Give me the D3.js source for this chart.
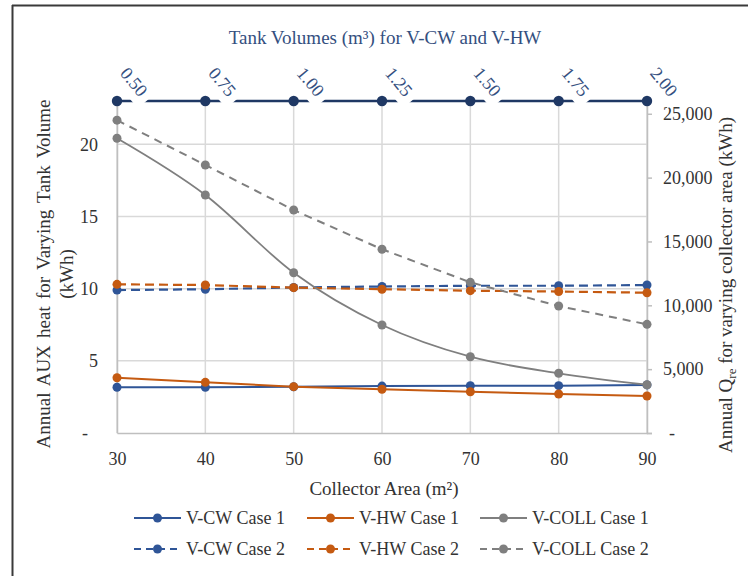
<!DOCTYPE html>
<html>
<head>
<meta charset="utf-8">
<script src="https://cdn.jsdelivr.net/npm/d3@7"></script>
<style>
  html, body { margin: 0; padding: 0; background: #fff; }
  svg { display: block; font-family: "Liberation Serif", "Times New Roman", serif; }
</style>
</head>
<body>
<svg id="chart" width="748" height="576"></svg>
<script>
// ---- data ----
const collectorArea = [30, 40, 50, 60, 70, 80, 90];
const tankVolumes = ["0.50", "0.75", "1.00", "1.25", "1.50", "1.75", "2.00"];
const leftTicks = [0, 5, 10, 15, 20];
const rightTicks = [0, 5000, 10000, 15000, 20000, 25000];

const vcwCase1 = [3.17, 3.17, 3.20, 3.25, 3.27, 3.28, 3.33];
const vhwCase1 = [3.83, 3.51, 3.21, 3.03, 2.86, 2.70, 2.56];
const vcwCase2 = [9.90, 9.96, 10.08, 10.15, 10.20, 10.20, 10.25];
const vhwCase2 = [10.30, 10.25, 10.07, 9.96, 9.86, 9.80, 9.72];
const vcollCase1 = [23080, 18640, 12550, 8460, 5975, 4675, 3780];
const vcollCase2 = [24500, 20990, 17460, 14390, 11800, 9945, 8510];

const BLUE = "#2F5597", ORANGE = "#C55A11", GRAY = "#7F7F7F", NAVY = "#1F3864", TXT = "#344F80";

const svg = d3.select("#chart");
const W = 748, H = 576;
const plot = { left: 117, right: 647, top: 101, bottom: 433 };

const x = d3.scaleLinear().domain([30, 90]).range([plot.left, plot.right]);
const xTop = d3.scalePoint().domain(tankVolumes).range([plot.left, plot.right]);
const yL = d3.scaleLinear().domain([0, 23]).range([plot.bottom, plot.top]);
const yR = d3.scaleLinear().domain([0, 26000]).range([plot.bottom, plot.top]);

// frame
svg.append("line").attr("x1", 12).attr("x2", W).attr("y1", 5.5).attr("y2", 5.5)
  .attr("stroke", "#3a3a3a").attr("stroke-width", 2);
svg.append("line").attr("x1", 12.5).attr("x2", 12.5).attr("y1", 5).attr("y2", H)
  .attr("stroke", "#3a3a3a").attr("stroke-width", 2);

// gridlines
const grid = svg.append("g");
grid.selectAll("line.v").data(collectorArea).join("line")
  .attr("x1", d => x(d)).attr("x2", d => x(d))
  .attr("y1", plot.top).attr("y2", plot.bottom)
  .attr("stroke", "#D9D9D9").attr("stroke-width", 1.5);
grid.selectAll("line.h").data(leftTicks.filter(d => d > 0)).join("line")
  .attr("x1", plot.left).attr("x2", plot.right)
  .attr("y1", d => yL(d)).attr("y2", d => yL(d))
  .attr("stroke", "#D9D9D9").attr("stroke-width", 1.5);

// axes
const FS = 18;
const gL = svg.append("g").attr("transform", `translate(${plot.left},0)`)
  .call(d3.axisLeft(yL).tickValues(leftTicks).tickSize(0).tickPadding(19)
    .tickFormat(d => d === 0 ? "-" : d));
gL.select(".domain").attr("stroke", "#BFBFBF").attr("stroke-width", 1.5);
gL.selectAll("text").attr("font-size", FS).attr("font-family", "Liberation Serif").attr("fill", "#333");
gL.selectAll(".tick").filter(d => d === 0).select("text").attr("dx", -10);

const gB = svg.append("g").attr("transform", `translate(0,${plot.bottom})`)
  .call(d3.axisBottom(x).tickValues(collectorArea).tickSize(0).tickPadding(19));
gB.select(".domain").attr("stroke", "#BFBFBF").attr("stroke-width", 1.5);
gB.selectAll("text").attr("font-size", FS).attr("font-family", "Liberation Serif").attr("fill", "#333");

const gR = svg.append("g").attr("transform", `translate(${plot.right},0)`)
  .call(d3.axisRight(yR).tickValues(rightTicks).tickSize(5).tickPadding(11)
    .tickFormat(d => d === 0 ? "-" : d3.format(",")(d)));
gR.select(".domain").attr("stroke", "#BFBFBF").attr("stroke-width", 1.5);
gR.selectAll(".tick line").attr("stroke", "#BFBFBF").attr("stroke-width", 1.5);
gR.selectAll("text").attr("font-size", FS).attr("font-family", "Liberation Serif").attr("fill", "#333");
gR.selectAll(".tick").filter(d => d === 0).select("text").attr("dx", 6);

// series
const series = [
  { name: "V-CW Case 1", vals: vcwCase1, y: yL, color: BLUE, dash: null, smooth: false, w: 2 },
  { name: "V-HW Case 1", vals: vhwCase1, y: yL, color: ORANGE, dash: null, smooth: false, w: 2 },
  { name: "V-CW Case 2", vals: vcwCase2, y: yL, color: BLUE, dash: "9,5", smooth: false, w: 2.2 },
  { name: "V-HW Case 2", vals: vhwCase2, y: yL, color: ORANGE, dash: "9,5", smooth: false, w: 2.2 },
  { name: "V-COLL Case 1", vals: vcollCase1, y: yR, color: GRAY, dash: null, smooth: true, w: 1.8 },
  { name: "V-COLL Case 2", vals: vcollCase2, y: yR, color: GRAY, dash: "8,6", smooth: false, w: 2 }
];
const sg = svg.append("g");
series.forEach(s => {
  const pts = collectorArea.map((a, i) => [a, s.vals[i]]);
  const line = d3.line().x(d => x(d[0])).y(d => s.y(d[1]))
    .curve(s.smooth ? d3.curveCatmullRom.alpha(0) : d3.curveLinear);
  sg.append("path").datum(pts).attr("d", line).attr("fill", "none")
    .attr("stroke", s.color).attr("stroke-width", s.w)
    .attr("stroke-dasharray", s.dash);
  sg.selectAll(null).data(pts).join("circle")
    .attr("cx", d => x(d[0])).attr("cy", d => s.y(d[1])).attr("r", 4.5)
    .attr("fill", s.color);
});

// top tank-volume axis
const topG = svg.append("g");
topG.append("line").attr("x1", xTop(tankVolumes[0])).attr("x2", xTop(tankVolumes[tankVolumes.length - 1]))
  .attr("y1", plot.top).attr("y2", plot.top).attr("stroke", NAVY).attr("stroke-width", 2.5);
const lab = topG.selectAll("g.lab").data(tankVolumes).join("g")
  .attr("transform", d => `translate(${xTop(d) + 27},94) rotate(50)`);
lab.append("rect").attr("x", -34).attr("y", -9).attr("width", 41).attr("height", 23).attr("fill", "#fff");
lab.append("text").attr("text-anchor", "end").attr("dominant-baseline", "central")
  .attr("font-size", FS).attr("fill", TXT).text(d => d);
topG.selectAll("circle").data(tankVolumes).join("circle")
  .attr("cx", d => xTop(d)).attr("cy", plot.top).attr("r", 5.2).attr("fill", NAVY);

// titles
svg.append("text").attr("x", 385).attr("y", 44).attr("text-anchor", "middle")
  .attr("font-size", 19).attr("fill", TXT).text("Tank Volumes (m³) for V-CW and V-HW");

svg.append("text").attr("x", 384).attr("y", 495).attr("text-anchor", "middle")
  .attr("font-size", 19).attr("fill", "#333").text("Collector Area (m²)");

const lt = svg.append("text").attr("transform", "translate(50,274) rotate(-90)")
  .attr("text-anchor", "middle").attr("font-size", 19).attr("fill", "#333").attr("word-spacing", 2.5);
lt.append("tspan").attr("x", 0).attr("y", 0).text("Annual AUX heat for Varying Tank Volume");
lt.append("tspan").attr("x", 0).attr("y", 23).text("(kWh)");

const rt = svg.append("text").attr("transform", "translate(732,285) rotate(-90)")
  .attr("text-anchor", "middle").attr("font-size", 19).attr("fill", "#333");
rt.append("tspan").text("Annual Q");
rt.append("tspan").attr("font-size", 13).attr("dy", 4).text("re");
rt.append("tspan").attr("dy", -4).text(" for varying collector area (kWh)");

// legend
const legendItems = [
  { name: "V-CW Case 1", color: BLUE, dash: null, lx: 134, row: 0 },
  { name: "V-HW Case 1", color: ORANGE, dash: null, lx: 307, row: 0 },
  { name: "V-COLL Case 1", color: GRAY, dash: null, lx: 480, row: 0 },
  { name: "V-CW Case 2", color: BLUE, dash: "7,5", lx: 134, row: 1 },
  { name: "V-HW Case 2", color: ORANGE, dash: "7,5", lx: 307, row: 1 },
  { name: "V-COLL Case 2", color: GRAY, dash: "7,5", lx: 480, row: 1 }
];
const lg = svg.append("g");
legendItems.forEach(it => {
  const yy = 518 + it.row * 31;
  lg.append("line").attr("x1", it.lx).attr("x2", it.lx + 47).attr("y1", yy).attr("y2", yy)
    .attr("stroke", it.color).attr("stroke-width", 2).attr("stroke-dasharray", it.dash);
  lg.append("circle").attr("cx", it.lx + 23.5).attr("cy", yy).attr("r", 4.5).attr("fill", it.color);
  lg.append("text").attr("x", it.lx + 52).attr("y", yy + 6).attr("font-size", 18)
    .attr("fill", "#333").text(it.name);
});
</script>
</body>
</html>
